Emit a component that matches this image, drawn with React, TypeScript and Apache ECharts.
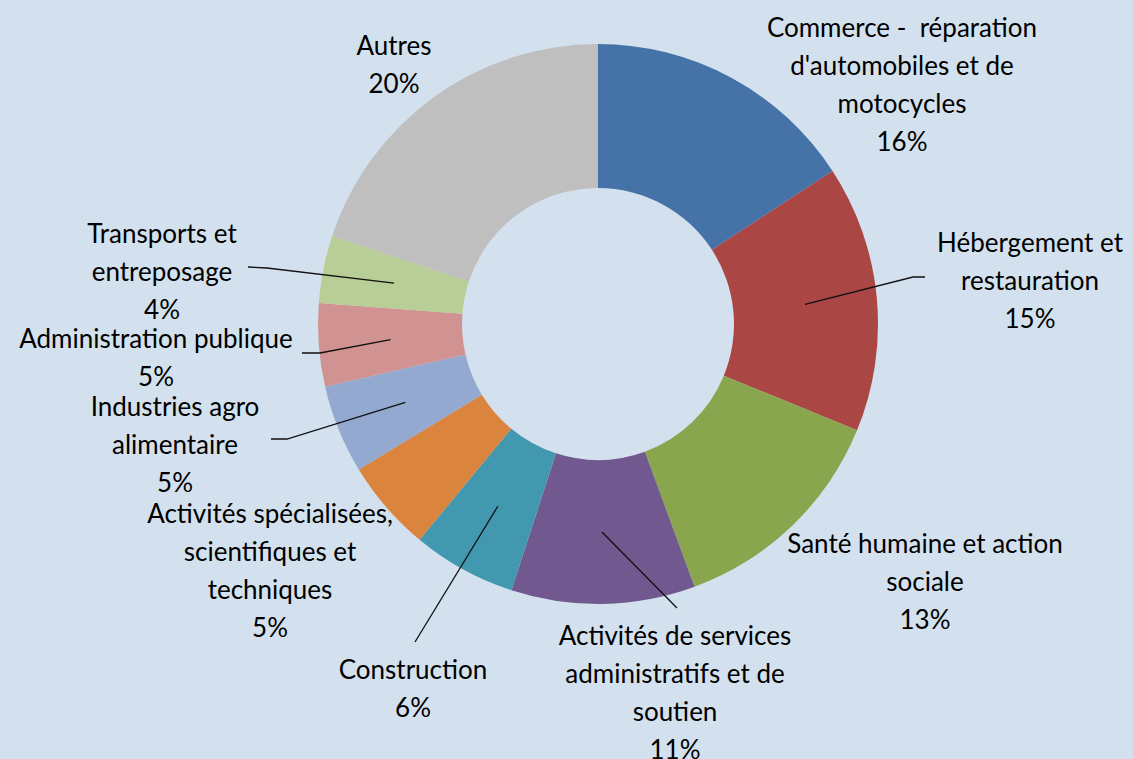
import React, { useEffect, useRef } from "react";
import * as echarts from "echarts";

const categories = [
  "Commerce -  réparation\nd'automobiles et de\nmotocycles",
  "Hébergement et\nrestauration",
  "Santé humaine et action\nsociale",
  "Activités de services\nadministratifs et de\nsoutien",
  "Construction",
  "Activités spécialisées,\nscientifiques et\ntechniques",
  "Industries agro\nalimentaire",
  "Administration publique",
  "Transports et\nentreposage",
  "Autres",
];

const shares = [15.8, 15.4, 13.2, 10.6, 6.0, 5.3, 5.1, 4.8, 3.9, 19.9];

const sliceColors = [
  "#4572a7",
  "#aa4643",
  "#89a54e",
  "#71588f",
  "#4198af",
  "#db843d",
  "#93a9cf",
  "#d19392",
  "#b9cd97",
  "#bfbfbf",
];

// label block centres (px)
const labelCentres: number[][] = [
  [902, 84],
  [1030, 280],
  [925, 581],
  [675, 692],
  [413, 688],
  [270, 570],
  [175, 444],
  [156, 357],
  [162, 271],
  [394, 64],
];

// leader lines: [elbowX, elbowY, endX, endY] or null
const leaderLines: (number[] | null)[] = [
  null,
  [913, 277, 925, 277],
  null,
  [677, 608, 677, 608],
  [415, 642, 415, 642],
  null,
  [287, 439, 271, 439],
  [320, 353, 302, 353],
  [267, 268, 248, 267],
  null,
];

const CX = 598;
const CY = 324;
const R_IN = 136;
const R_OUT = 280;

export default function App() {
  const ref = useRef<HTMLDivElement>(null);
  useEffect(() => {
    if (!ref.current) return;
    const chart = echarts.init(ref.current, undefined, { renderer: "svg" });
    const total = shares.reduce((a, b) => a + b, 0);
    const midAngles: number[] = [];
    let cum = 0;
    shares.forEach((v) => {
      midAngles.push(((cum + v / 2) / total) * Math.PI * 2);
      cum += v;
    });
    const rMid = (R_IN + R_OUT) / 2;
    const common = {
      type: "pie",
      center: [CX, CY],
      radius: [R_IN, R_OUT],
      startAngle: 90,
      clockwise: true,
      avoidLabelOverlap: false,
    };
    chart.setOption({
      animation: false,
      backgroundColor: "#d3e0ed",
      series: [
        {
          ...common,
          z: 2,
          color: sliceColors,
          itemStyle: { borderWidth: 0 },
          label: { show: false },
          labelLine: { show: false },
          data: categories.map((name, i) => ({ name, value: shares[i] })),
        },
        {
          ...common,
          z: 3,
          silent: true,
          itemStyle: { color: "rgba(0,0,0,0)", borderWidth: 0 },
          label: {
            show: true,
            position: "outside",
            color: "#000",
            fontFamily: "Lato",
            fontSize: 26,
            lineHeight: 38,
            align: "center",
            formatter: (p: any) => `${p.name}\n${Math.round(p.value)}%`,
          },
          labelLine: {
            show: true,
            lineStyle: { color: "#111", width: 1.3 },
          },
          labelLayout: (p: any) => {
            const i = p.dataIndex;
            const c = labelCentres[i];
            const res: any = { x: c[0], y: c[1], align: "center", verticalAlign: "middle" };
            const ll = leaderLines[i];
            if (ll) {
              const a = midAngles[i];
              res.labelLinePoints = [
                [CX + rMid * Math.sin(a), CY - rMid * Math.cos(a)],
                [ll[0], ll[1]],
                [ll[2], ll[3]],
              ];
            }
            return res;
          },
          data: categories.map((name, i) => ({
            name,
            value: shares[i],
            labelLine: { show: leaderLines[i] !== null },
          })),
        },
      ],
    });
    return () => chart.dispose();
  }, []);
  return (
    <div
      ref={ref}
      style={{ position: "absolute", left: 0, top: 0, width: 1133, height: 759 }}
    />
  );
}
